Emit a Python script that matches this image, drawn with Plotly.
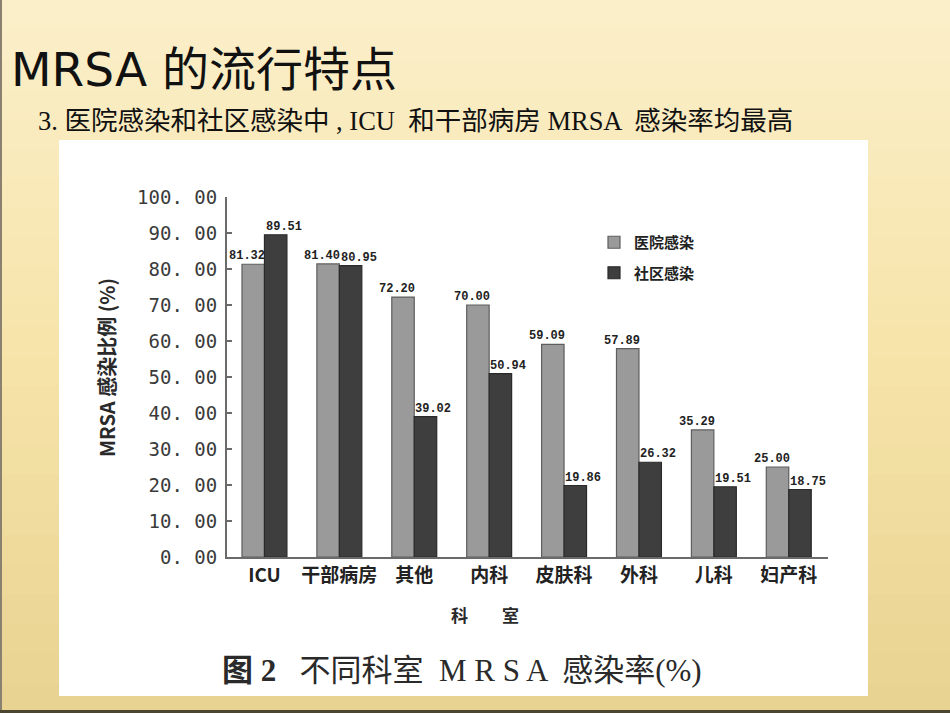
import plotly.graph_objects as go

# ---- data ----
categories = ["ICU", "干部病房", "其他", "内科", "皮肤科", "外科", "儿科", "妇产科"]
hospital = [81.32, 81.40, 72.20, 70.00, 59.09, 57.89, 35.29, 25.00]
community = [89.51, 80.95, 39.02, 50.94, 19.86, 26.32, 19.51, 18.75]
series_names = ["医院感染", "社区感染"]
y_tick_vals = [0, 10, 20, 30, 40, 50, 60, 70, 80, 90, 100]
y_tick_text = ["0. 00", "10. 00", "20. 00", "30. 00", "40. 00", "50. 00",
               "60. 00", "70. 00", "80. 00", "90. 00", "100. 00"]

W, H = 950, 713
L, R, T, B = 227, 828, 197, 557  # plot area in pixels

def px(xp):
    return (xp - L) / (R - L)

def py(yp):
    return (B - yp) / (B - T)

CJK = "Noto Sans CJK SC"
fig = go.Figure()
fig.add_trace(go.Bar(
    x=categories, y=hospital, name=f"<b>{series_names[0]}</b>", legendgroup="a",
    marker=dict(color="#9a9a9a", line=dict(color="#5e5e5e", width=1.2)),
))
fig.add_trace(go.Bar(
    x=categories, y=community, name=f"<b>{series_names[1]}</b>", legendgroup="b",
    marker=dict(color="#3e3e3e", line=dict(color="#2a2a2a", width=1.2)),
))

annotations = []
label_font = dict(family="Liberation Mono", size=12, color="#222222")
for i, v in enumerate(hospital):
    annotations.append(dict(x=i - 0.15, y=v, xref="x", yref="y", text=f"<b>{v:.2f}</b>",
                            showarrow=False, yanchor="bottom", xanchor="center",
                            xshift=-6, yshift=-1, font=label_font))
for i, v in enumerate(community):
    annotations.append(dict(x=i + 0.15, y=v, xref="x", yref="y", text=f"<b>{v:.2f}</b>",
                            showarrow=False, yanchor="bottom", xanchor="center",
                            xshift=8, yshift=-1, font=label_font))

# slide title and subtitle
annotations.append(dict(x=px(9), y=py(70), xref="paper", yref="paper",
                        text="MRSA 的流行特点", showarrow=False, xanchor="left", yanchor="middle",
                        font=dict(family="DejaVu Sans, " + CJK, size=47, color="#111111")))
annotations.append(dict(x=px(36), y=py(121), xref="paper", yref="paper",
                        text="3. 医院感染和社区感染中 , ICU  和干部病房 MRSA  感染率均最高",
                        showarrow=False, xanchor="left", yanchor="middle",
                        font=dict(family="Liberation Serif, " + CJK, size=26.5, color="#111111")))
# axis titles
annotations.append(dict(x=px(106), y=py(368), xref="paper", yref="paper",
                        text="<b>MRSA 感染比例 (%)</b>", showarrow=False, textangle=-90,
                        xanchor="center", yanchor="middle",
                        font=dict(family=CJK, size=20, color="#2a2a2a")))
annotations.append(dict(x=px(485), y=py(614), xref="paper", yref="paper",
                        text="<b>科　　室</b>", showarrow=False,
                        xanchor="center", yanchor="middle",
                        font=dict(family=CJK, size=17, color="#2a2a2a")))
# caption
annotations.append(dict(x=px(462), y=py(670), xref="paper", yref="paper",
                        text="<b>图 2</b>   不同科室  M R S A  感染率(%)", showarrow=False,
                        xanchor="center", yanchor="middle",
                        font=dict(family="Liberation Serif, " + CJK, size=31, color="#2a2a2a")))

shapes = []
# background gradient bands
top_c = (252, 240, 203)
mid_c = (247, 228, 170)
bot_c = (233, 211, 145)
n = 24
for k in range(n):
    t = (k + 0.5) / n
    if t < 0.5:
        c = tuple(int(top_c[j] + (mid_c[j] - top_c[j]) * t / 0.5) for j in range(3))
    else:
        c = tuple(int(mid_c[j] + (bot_c[j] - mid_c[j]) * (t - 0.5) / 0.5) for j in range(3))
    y0p = H * k / n
    y1p = H * (k + 1) / n + 1
    shapes.append(dict(type="rect", xref="paper", yref="paper", layer="below",
                       x0=px(0), x1=px(W), y0=py(y1p), y1=py(y0p),
                       fillcolor=f"rgb{c}", line=dict(width=0)))
# slide edges
shapes.append(dict(type="rect", xref="paper", yref="paper", layer="below",
                   x0=px(0), x1=px(2), y0=py(H), y1=py(0),
                   fillcolor="#8a8070", line=dict(width=0)))
shapes.append(dict(type="rect", xref="paper", yref="paper", layer="below",
                   x0=px(0), x1=px(W), y0=py(H), y1=py(710),
                   fillcolor="#4a4630", line=dict(width=0)))
# white picture area
shapes.append(dict(type="rect", xref="paper", yref="paper", layer="below",
                   x0=px(59), x1=px(868), y0=py(696), y1=py(140),
                   fillcolor="#ffffff", line=dict(width=0)))

fig.update_layout(
    width=W, height=H,
    margin=dict(l=L, r=W - R, t=T, b=H - B),
    paper_bgcolor="rgb(250,236,195)",
    plot_bgcolor="rgba(0,0,0,0)",
    barmode="group", bargap=0.4, bargroupgap=0,
    showlegend=True,
    legend=dict(x=px(594), y=py(226), xanchor="left", yanchor="top",
                bgcolor="rgba(0,0,0,0)", font=dict(family=CJK, size=15, color="#222222"),
                traceorder="grouped", tracegroupgap=8, itemwidth=30),
    annotations=annotations,
    shapes=shapes,
    xaxis=dict(showline=True, linecolor="#6a6a6a", linewidth=2, ticks="",
               tickfont=dict(family=CJK, size=19, color="#222222"),
               showgrid=False, zeroline=False, fixedrange=True),
    yaxis=dict(range=[0, 100], tickvals=y_tick_vals, ticktext=y_tick_text,
               showline=True, linecolor="#6a6a6a", linewidth=2,
               ticks="inside", ticklen=5, tickcolor="#6a6a6a", tickwidth=1.5,
               tickfont=dict(family="DejaVu Sans Mono", size=19, color="#3a3a3a"),
               showgrid=False, zeroline=False, ticklabelstandoff=4),
)
fig.for_each_xaxis(lambda a: a.update(tickprefix="<b>", ticksuffix="</b>"))
fig.for_each_yaxis(lambda a: a.update(tickprefix="<b>", ticksuffix="</b>"))

fig.write_html("out.html")
